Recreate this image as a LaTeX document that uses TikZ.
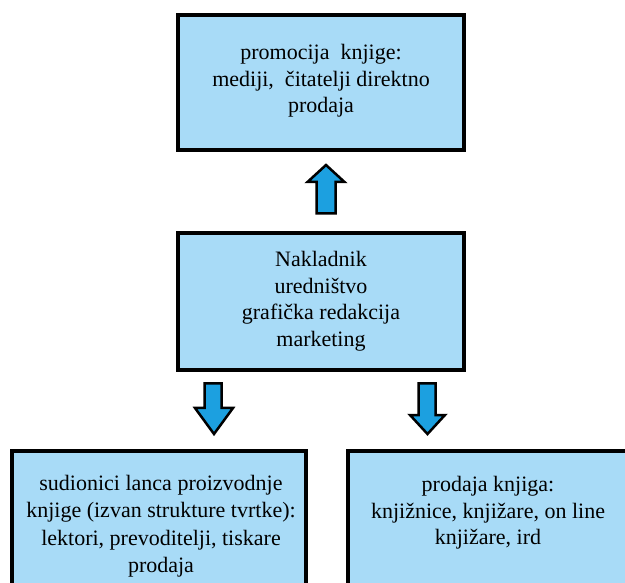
\documentclass[tikz,border=0pt]{standalone}
\usepackage{fontspec}
\setmainfont{Liberation Serif}
\definecolor{boxfill}{HTML}{A8DBF7}
\definecolor{arrfill}{HTML}{1CA0E0}
\begin{document}
\begin{tikzpicture}[x=1pt,y=-1pt,
  box/.style={draw=black,line width=4pt,fill=boxfill},
  txt/.style={align=center,font=\fontsize{22}{26.5}\selectfont,inner sep=0pt},
  blockarrow/.style={draw=black,line width=2.5pt,fill=arrfill,line join=miter}]
\useasboundingbox (0,0) rectangle (625,583);
\begin{scope}
\clip (0,0) rectangle (625,583);
\fill[white] (0,0) rectangle (625,583);
% boxes
\draw[box] (178,15) rectangle (464,150);
\draw[box] (178,233) rectangle (464,370);
\draw[box] (12,451) rectangle (306,620);
\draw[box] (348,451) rectangle (640,620);
% texts
\node[txt] (top) at (321,81) {promocija\ \ knjige:\\mediji,\ \ čitatelji direktno\\prodaja};
\node[txt] (mid) at (321,301) {Nakladnik\\uredništvo\\grafička redakcija\\marketing};
\node[txt,font=\fontsize{22}{27.5}\selectfont] (bl) at (161,526) {sudionici lanca proizvodnje\\knjige (izvan strukture tvrtke):\\lektori, prevoditelji, tiskare\\prodaja};
\node[txt] (br) at (488,513) {prodaja knjiga:\\knjižnice, knjižare, on line\\knjižare, ird};
% block arrows
\draw[blockarrow] (326,165) -- (344.5,182) -- (335.5,182) -- (335.5,213.5) -- (316.5,213.5) -- (316.5,182) -- (307.5,182) -- cycle;
\draw[blockarrow] (214,434) -- (233,408) -- (221.5,408) -- (221.5,383.5) -- (204.5,383.5) -- (204.5,408) -- (195,408) -- cycle;
\draw[blockarrow] (427.5,434) -- (445,415) -- (435.5,415) -- (435.5,383.5) -- (418.5,383.5) -- (418.5,415) -- (410,415) -- cycle;
\end{scope}
\end{tikzpicture}
\end{document}
